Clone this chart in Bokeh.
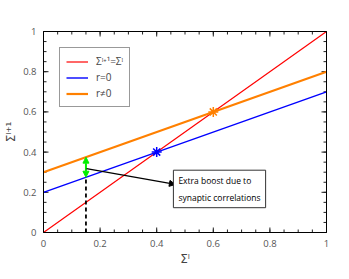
import numpy as np
from bokeh.plotting import figure
from bokeh.models import (LinearAxis, FixedTicker, Arrow, NormalHead, Label, Range1d)
from bokeh.embed import file_html
from bokeh.resources import INLINE

# data
sigma = [0.0, 1.0]
identity = [0.0, 1.0]
r_zero = [0.2, 0.7]
r_nonzero = [0.3, 0.8]
fp0_x, fp0_y = [0.4], [0.4]
fp1_x, fp1_y = [0.6], [0.6]
boost_x = 0.15
boost_low = 0.275
boost_high = 0.375
note_start = (0.152, 0.318)
note_end = (0.466, 0.239)
note_text = "Extra boost due to\nsynaptic correlations"
note_pos = (0.459, 0.31)
major_ticks = [0, 0.2, 0.4, 0.6, 0.8, 1.0]
minor_ticks = [i * 0.05 for i in range(21)]
tick_labels = {0: "0", 0.2: "0.2", 0.4: "0.4", 0.6: "0.6", 0.8: "0.8", 1: "1"}

FONT = "Open Sans"
FW, FH = 283, 201

p = figure(frame_width=FW, frame_height=FH, output_backend="svg", toolbar_location=None,
           x_range=Range1d(0, 1), y_range=Range1d(0, 1),
           min_border_left=43, min_border_right=18, min_border_top=31, min_border_bottom=40)
p.grid.visible = False
p.outline_line_color = "black"
p.outline_line_width = 1
p.background_fill_color = None
p.border_fill_color = None


def style_axis(ax, show_labels, label=None):
    ax.ticker = FixedTicker(ticks=major_ticks, minor_ticks=minor_ticks)
    ax.major_tick_in = 0
    ax.major_tick_out = 0
    ax.minor_tick_in = 0
    ax.minor_tick_out = 0
    ax.axis_line_color = "black"
    ax.axis_line_width = 1
    if show_labels:
        ax.major_label_overrides = tick_labels
        ax.major_label_text_font = FONT
        ax.major_label_text_font_size = "9.5px"
        ax.major_label_text_color = "#555555"
        ax.major_label_standoff = 7
    else:
        ax.major_label_text_font_size = "0px"
        ax.major_label_text_alpha = 0
    if label:
        ax.axis_label = label
        ax.axis_label_text_font = "DejaVu Sans"
        ax.axis_label_text_font_size = "12px"
        ax.axis_label_text_font_style = "normal"
        ax.axis_label_standoff = 2
    return ax


style_axis(p.xaxis[0], True, "Σˡ")
style_axis(p.yaxis[0], True, "Σˡ⁺¹")
p.add_layout(style_axis(LinearAxis(), False), "above")
p.add_layout(style_axis(LinearAxis(), False), "right")

# inward ticks on all four sides, built from the tick arrays
for ticks, px in ((np.array(minor_ticks), 3.0), (np.array(major_ticks), 5.0)):
    lx = px / FW
    ly = px / FH
    zeros = np.zeros_like(ticks)
    ones = np.ones_like(ticks)
    p.segment(x0=ticks, y0=zeros, x1=ticks, y1=zeros + ly, line_color="#222222", line_width=1)
    p.segment(x0=ticks, y0=ones, x1=ticks, y1=ones - ly, line_color="#222222", line_width=1)
    p.segment(x0=zeros, y0=ticks, x1=zeros + lx, y1=ticks, line_color="#222222", line_width=1)
    p.segment(x0=ones, y0=ticks, x1=ones - lx, y1=ticks, line_color="#222222", line_width=1)

p.line(sigma, identity, color="#ff0000", line_width=1.2, legend_label="Σˡ⁺¹=Σˡ")
p.line(sigma, r_zero, color="#0000ff", line_width=1.4, legend_label="r=0")
p.line(sigma, r_nonzero, color="#ff8000", line_width=2.2, legend_label="r≠0")

p.scatter(fp0_x, fp0_y, marker="asterisk", size=10, line_color="#0000ff", line_width=1.5)
p.scatter(fp1_x, fp1_y, marker="asterisk", size=10, line_color="#ff8000", line_width=1.5)

# dashed vertical
p.line([boost_x, boost_x], [0, boost_low], color="black", line_width=1.8, line_dash="4 3")

# green double arrow
p.add_layout(Arrow(x_start=boost_x, y_start=boost_low, x_end=boost_x, y_end=boost_high,
                   line_color="#00ee00", line_width=2,
                   start=NormalHead(size=6, fill_color="#00ee00", line_color="#00ee00"),
                   end=NormalHead(size=6, fill_color="#00ee00", line_color="#00ee00")))

# annotation arrow
p.add_layout(Arrow(x_start=note_start[0], y_start=note_start[1], x_end=note_end[0], y_end=note_end[1],
                   line_color="black", line_width=1.3,
                   end=NormalHead(size=6, fill_color="black", line_color="black")))

p.add_layout(Label(x=note_pos[0], y=note_pos[1], text=note_text, text_font=FONT,
                   text_font_size="8.5px", text_color="black", text_baseline="top",
                   text_line_height=1.5,
                   border_line_color="#333333", border_line_width=1,
                   background_fill_color="white", padding=5))

leg = p.legend[0]
leg.location = "top_left"
leg.margin = 16
leg.label_text_font = FONT
leg.label_text_font_size = "10px"
leg.glyph_width = 22
leg.glyph_height = 13
leg.label_height = 13
leg.spacing = 2
leg.padding = 6
leg.border_line_color = "#333333"
leg.border_line_width = 1
leg.label_standoff = 8

open("out.html", "w").write(file_html(p, INLINE))
